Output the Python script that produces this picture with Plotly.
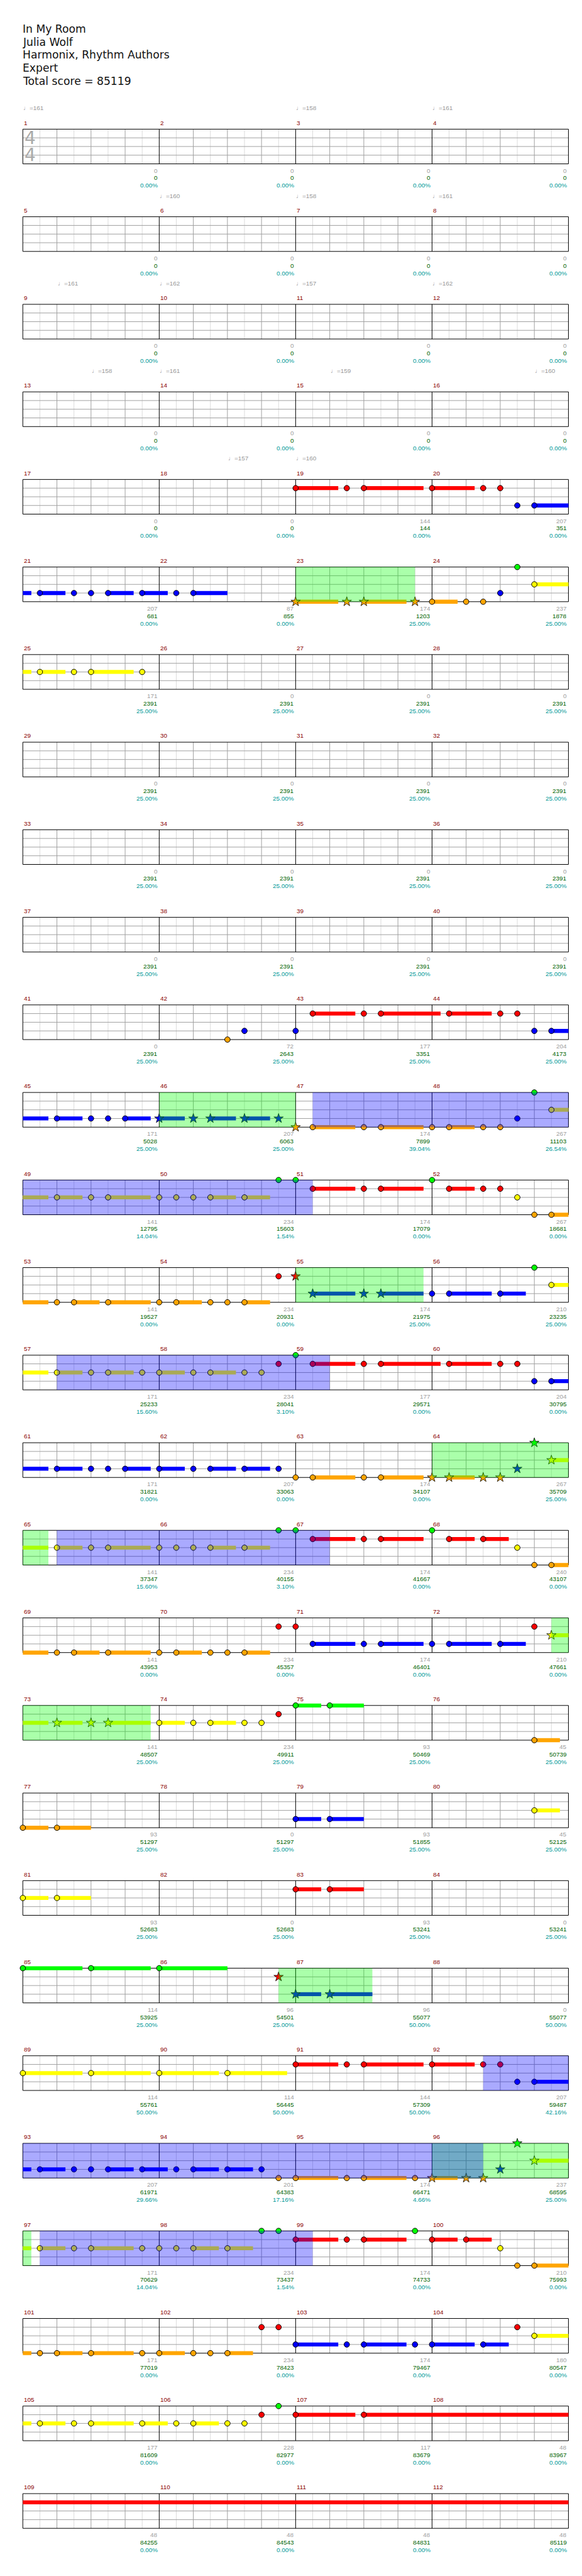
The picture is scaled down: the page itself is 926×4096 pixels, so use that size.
import plotly.graph_objects as go

# ---------------- data ----------------
title_lines = ["In My Room", "Julia Wolf", "Harmonix, Rhythm Authors", "Expert", "Total score = 85119"]

n_rows = 28
measures_per_row = 4
eighths_per_measure = 8

# per-measure labels (grouped by row of 4 measures)
measure_points = (
    [0] * 16 +
    [0, 0, 144, 207] + [207, 87, 174, 237] + [171, 0, 0, 0] + [0] * 12 +
    [0, 72, 177, 204] + [171, 207, 174, 267] + [141, 234, 174, 267] +
    [141, 234, 174, 210] + [171, 234, 177, 204] + [171, 207, 174, 267] +
    [141, 234, 174, 240] + [141, 234, 174, 210] + [141, 234, 93, 45] +
    [93, 0, 93, 45] + [93, 0, 93, 0] + [114, 96, 96, 0] +
    [114, 114, 144, 207] + [207, 201, 174, 237] + [171, 234, 174, 210] +
    [171, 234, 174, 180] + [177, 228, 117, 48] + [48, 48, 48, 48]
)
cumulative_score = (
    [0] * 16 +
    [0, 0, 144, 351] + [681, 855, 1203, 1878] + [2391] * 4 + [2391] * 12 +
    [2391, 2643, 3351, 4173] + [5028, 6063, 7899, 11103] + [12795, 15603, 17079, 18681] +
    [19527, 20931, 21975, 23235] + [25233, 28041, 29571, 30795] + [31821, 33063, 34107, 35709] +
    [37347, 40155, 41667, 43107] + [43953, 45357, 46401, 47661] + [48507, 49911, 50469, 50739] +
    [51297, 51297, 51855, 52125] + [52683, 52683, 53241, 53241] + [53925, 54501, 55077, 55077] +
    [55761, 56445, 57309, 59487] + [61971, 64383, 66471, 68595] + [70629, 73437, 74733, 75993] +
    [77019, 78423, 79467, 80547] + [81609, 82977, 83679, 83967] + [84255, 84543, 84831, 85119]
)
percent_label = (
    [0.0] * 20 +
    [0.0, 0.0, 25.0, 25.0] + [25.0] * 20 +
    [25.0, 25.0, 39.04, 26.54] + [14.04, 1.54, 0.0, 0.0] + [0.0, 0.0, 25.0, 25.0] +
    [15.60, 3.10, 0.0, 0.0] + [0.0, 0.0, 0.0, 25.0] + [15.60, 3.10, 0.0, 0.0] +
    [0.0] * 4 + [25.0] * 4 + [25.0] * 4 + [25.0] * 4 + [25.0, 25.0, 50.0, 50.0] +
    [50.0, 50.0, 50.0, 42.16] + [29.66, 17.16, 4.66, 25.0] + [14.04, 1.54, 0.0, 0.0] +
    [0.0] * 12
)

# tempo changes (position in eighth notes from song start)
tempo_pos = [0, 16, 24, 40, 48, 56, 66, 72, 80, 88, 100, 104, 114, 126, 140, 144]
tempo_bpm = [161, 158, 161, 160, 158, 161, 161, 162, 157, 162, 158, 161, 159, 160, 157, 160]

# lanes: y index 0 (bottom, kick) .. 4 (top)
lane_colors = ["#ffa500", "#0000ff", "#ffff00", "#ff0000", "#00ff00"]

# note positions (eighth notes from song start)
orange_notes = [184, 186, 187, 332, 369, 372, 373, 376, 377, 379, 380, 414, 415,
                418, 419, 421, 424, 425, 427, 428, 429, 496, 497, 500, 501, 542, 543,
                546, 547, 549, 552, 553, 555, 556, 557, 606, 608, 610,
                751, 752, 755, 756, 759, 797, 798, 801, 802, 804, 807, 808, 810, 811, 812]
orange_stars = [176, 179, 180, 183, 368, 504, 505, 507, 508, 760, 762, 763]
orange_bars = [(176, 178.5), (180, 182.5), (184, 185.5), (369, 371.5), (373, 375.5), (377, 378.5),
               (415, 417.5), (419, 420.5), (421, 423.5), (425, 426.5), (429, 430.5),
               (497, 499.5), (501, 503.5), (505, 506.5), (543, 545.5), (547, 548.5),
               (549, 551.5), (553, 554.5), (557, 558.5), (606, 607.5), (608, 609.5), (610, 612),
               (752, 754.5), (756, 758.5), (760, 761.5), (798, 800.5), (802, 803.5),
               (804, 806.5), (808, 809.5), (812, 813.5)]

blue_notes = [157, 158, 161, 163, 164, 165, 167, 169, 170, 188, 333, 336, 350, 351,
              354, 356, 357, 358, 381, 440, 441, 444, 478, 479,
              482, 484, 485, 486, 488, 490, 491, 493, 495, 561, 564, 565, 568, 569, 572,
              624, 626, 733, 734, 737, 739, 740, 741, 743, 745, 746, 748, 750,
              816, 819, 820, 823, 824, 827]
blue_stars = [360, 362, 363, 365, 367, 433, 436, 437, 509, 688, 690, 764]
blue_bars = [(158, 160.5), (161, 162.5), (165, 166.5), (167, 168.5), (170, 172),
             (351, 353.5), (354, 355.5), (358, 359.5), (360, 361.5), (363, 364.5), (365, 366.5),
             (433, 435.5), (437, 439.5), (441, 443.5), (444, 445.5), (479, 481.5),
             (482, 483.5), (486, 487.5), (488, 489.5), (491, 492.5), (493, 494.5),
             (561, 563.5), (565, 567.5), (569, 571.5), (572, 573.5), (624, 625.5), (626, 628),
             (688, 689.5), (690, 692.5), (734, 736.5), (737, 738.5), (741, 742.5),
             (743, 744.5), (746, 747.5), (748, 749.5), (816, 818.5), (820, 822.5),
             (824, 826.5), (827, 828.5)]

yellow_notes = [190, 193, 195, 196, 199, 383, 386, 388, 389, 392, 393, 394, 395, 397, 413, 447,
                450, 452, 453, 455, 456, 458, 459, 461, 462, 514, 516, 517, 520, 521, 522, 523, 525,
                541, 584, 586, 587, 589, 590, 638, 640, 642, 704, 708, 712, 716,
                769, 771, 772, 775, 776, 777, 778, 780, 796, 830,
                833, 835, 836, 839, 841, 842, 844, 845]
yellow_stars = [511, 575, 578, 580, 581, 766]
yellow_bars = [(190, 192.5), (193, 194.5), (196, 198.5), (383, 385.5), (386, 387.5), (389, 391.5),
               (395, 396.5), (397, 398.5), (447, 449.5), (450, 451.5), (453, 454.5), (456, 457.5),
               (459, 460.5), (511, 513.5), (514, 515.5), (517, 519.5), (523, 524.5), (525, 526.5),
               (575, 577.5), (578, 579.5), (581, 583.5), (584, 585.5), (587, 588.5),
               (638, 639.5), (640, 641.5), (642, 644), (704, 707.5), (708, 711.5), (712, 715.5),
               (716, 719.5), (766, 768.5), (769, 770.5), (772, 774.5), (778, 779.5), (780, 781.5),
               (830, 832.5), (833, 834.5), (836, 838.5), (839, 840.5), (842, 843.5)]

red_notes = [144, 147, 148, 152, 155, 156, 337, 340, 341, 345, 348, 349,
             401, 404, 405, 409, 411, 412, 431, 463, 465, 468, 469, 473, 476, 477,
             529, 532, 533, 537, 539, 559, 560, 574, 591, 656, 658,
             720, 723, 724, 728, 731, 732, 784, 787, 788, 792, 794, 814, 815, 829, 846, 848, 852]
red_stars = [432, 687]
red_bars = [(144, 146.5), (148, 151.5), (152, 154.5), (337, 339.5), (341, 344.5), (345, 347.5),
            (401, 403.5), (405, 407.5), (409, 410.5), (465, 467.5), (469, 472.5), (473, 475.5),
            (529, 531.5), (533, 535.5), (537, 538.5), (539, 540.5), (656, 657.5), (658, 660),
            (720, 722.5), (724, 727.5), (728, 730.5), (784, 786.5), (788, 790.5), (792, 793.5),
            (794, 795.5), (848, 851.5), (852, 896)]

green_notes = [189, 382, 399, 400, 408, 446, 464, 527, 528, 536, 592, 594,
               672, 676, 680, 782, 783, 791, 847]
green_stars = [510, 765]
green_bars = [(592, 593.5), (594, 596), (672, 675.5), (676, 679.5), (680, 684)]

# shaded phrases
green_regions = [(176, 183), (360, 368), (432, 439.5), (504, 513.5), (575, 583.5), (687, 692.5), (760, 768.5)]
blue_regions = [(369, 401), (450, 466), (514, 530), (731, 763), (769, 785)]

# ---------------- geometry (reference pixels, scaled to output) ----------------
REF_W, REF_H = 1024, 4530
OUT_W, OUT_H = 926, 4096
S = OUT_W / REF_W
STAFF_X0 = 31.3
EIGHTH_PX = 30.0
ROW_TOP0 = 218.3
ROW_PITCH = 154.0
LANE_PX = 15.25
XPAD = 0.6
YPAD = 0.7
ROW_LEN = measures_per_row * eighths_per_measure

LABEL_FONT = "Liberation Sans, Arial, sans-serif"

notes_by_lane = [(orange_notes, orange_stars, orange_bars), (blue_notes, blue_stars, blue_bars),
                 (yellow_notes, yellow_stars, yellow_bars), (red_notes, red_stars, red_bars),
                 (green_notes, green_stars, green_bars)]

fig = go.Figure()
layout_axes = {}
annotations = []
shapes = []


def suffix(r):
    return "" if r == 0 else str(r + 1)


for r in range(n_rows):
    sfx = suffix(r)
    xa, ya = "x" + sfx, "y" + sfx
    r0, r1 = r * ROW_LEN, (r + 1) * ROW_LEN
    top = ROW_TOP0 + r * ROW_PITCH
    x_lo = (STAFF_X0 - XPAD * EIGHTH_PX) / REF_W
    x_hi = (STAFF_X0 + (ROW_LEN + XPAD) * EIGHTH_PX) / REF_W
    y_top = top - YPAD * LANE_PX
    y_bot = top + 4 * LANE_PX + YPAD * LANE_PX
    layout_axes["xaxis" + sfx] = dict(domain=[x_lo, x_hi], range=[r0 - XPAD, r1 + XPAD],
                                      visible=False, fixedrange=True, anchor=ya)
    layout_axes["yaxis" + sfx] = dict(domain=[1 - y_bot / REF_H, 1 - y_top / REF_H],
                                      range=[-YPAD, 4 + YPAD], visible=False, fixedrange=True, anchor=xa)

    # grid
    gx = {"light": ([], []), "gray": ([], []), "black": ([], [])}
    for k in range(0, ROW_LEN + 1):
        kind = "black" if k % 8 == 0 else ("gray" if k % 2 == 0 else "light")
        gx[kind][0].extend([r0 + k, r0 + k, None])
        gx[kind][1].extend([0, 4, None])
    for yy in (1, 2, 3):
        gx["gray"][0].extend([r0, r1, None]); gx["gray"][1].extend([yy, yy, None])
    for yy in (0, 4):
        gx["black"][0].extend([r0, r1, None]); gx["black"][1].extend([yy, yy, None])
    for kind, col in (("light", "#dcdcdc"), ("gray", "#a0a0a0"), ("black", "#000000")):
        fig.add_trace(go.Scatter(x=gx[kind][0], y=gx[kind][1], mode="lines",
                                 line=dict(color=col, width=1), xaxis=xa, yaxis=ya,
                                 hoverinfo="skip", showlegend=False))

    # sustain bars
    for lane, (notes, stars, bars) in enumerate(notes_by_lane):
        bx, by = [], []
        for s, e in bars:
            cs, ce = max(s, r0), min(e, r1)
            if ce > cs:
                bx.extend([cs, ce, None]); by.extend([lane, lane, None])
        if bx:
            fig.add_trace(go.Scatter(x=bx, y=by, mode="lines",
                                     line=dict(color=lane_colors[lane], width=7 * S),
                                     xaxis=xa, yaxis=ya, hoverinfo="skip", showlegend=False))

    # notes
    cx, cy, cc, sx, sy, sc = [], [], [], [], [], []
    for lane, (notes, stars, bars) in enumerate(notes_by_lane):
        for p in notes:
            if r0 <= p < r1:
                cx.append(p); cy.append(lane); cc.append(lane_colors[lane])
        for p in stars:
            if r0 <= p < r1:
                sx.append(p); sy.append(lane); sc.append(lane_colors[lane])
    if cx:
        fig.add_trace(go.Scatter(x=cx, y=cy, mode="markers", cliponaxis=False,
                                 marker=dict(symbol="circle", size=9.6 * S, color=cc,
                                             line=dict(color="black", width=1)),
                                 xaxis=xa, yaxis=ya, hoverinfo="skip", showlegend=False))
    if sx:
        fig.add_trace(go.Scatter(x=sx, y=sy, mode="markers", cliponaxis=False,
                                 marker=dict(symbol="star", size=12.5 * S, color=sc,
                                             line=dict(color="black", width=0.8)),
                                 xaxis=xa, yaxis=ya, hoverinfo="skip", showlegend=False))

    # shaded phrases (drawn over everything in the staff)
    for regions, col in ((green_regions, "rgba(0,255,0,0.333)"), (blue_regions, "rgba(0,0,255,0.333)")):
        for s, e in regions:
            cs, ce = max(s, r0), min(e, r1)
            if ce > cs:
                shapes.append(dict(type="rect", xref=xa, yref=ya, x0=cs, x1=ce, y0=0, y1=4,
                                   fillcolor=col, line=dict(width=0), layer="above"))

    # measure labels
    for j in range(measures_per_row):
        m = r * measures_per_row + j  # 0-based
        start = m * eighths_per_measure
        end = start + eighths_per_measure
        annotations.append(dict(xref=xa, yref=ya, x=start, y=4, text=str(m + 1), showarrow=False,
                                xanchor="left", yanchor="middle", yshift=11.3 * S,
                                font=dict(family=LABEL_FONT, size=11 * S, color="#8b0000")))
        for txt, dy, col in ((str(measure_points[m]), 11.7, "#a0a0a0"),
                             (str(cumulative_score[m]), 24.7, "#006400"),
                             ("%.2f%%" % percent_label[m], 38.0, "#009999")):
            annotations.append(dict(xref=xa, yref=ya, x=end, y=0, text=txt, showarrow=False,
                                    xanchor="right", yanchor="middle", yshift=-dy * S,
                                    font=dict(family=LABEL_FONT, size=11 * S, color=col)))

# tempo markings
for p, bpm in zip(tempo_pos, tempo_bpm):
    r = p // ROW_LEN
    sfx = suffix(r)
    annotations.append(dict(xref="x" + sfx, yref="y" + sfx, x=p, y=4, text="\u2669=%d" % bpm,
                            showarrow=False, xanchor="left", yanchor="middle", yshift=37 * S, xshift=-1,
                            font=dict(family=LABEL_FONT, size=11 * S, color="#999999")))

# time signature
for yy in (3.0, 1.03):
    annotations.append(dict(xref="x", yref="y", x=0.43, y=yy, text="4", showarrow=False,
                            xanchor="center", yanchor="middle",
                            font=dict(family="DejaVu Sans", size=31 * S, color="#aaaaaa")))

# title block
title_y = [41.7, 64.8, 87.6, 110.8, 134.2]
for txt, yc in zip(title_lines, title_y):
    annotations.append(dict(xref="paper", yref="paper", x=28.5 / REF_W, y=1 - yc / REF_H, text=txt,
                            showarrow=False, xanchor="left", yanchor="middle",
                            font=dict(family="DejaVu Sans", size=19 * S, color="#111111")))

fig.update_layout(width=OUT_W, height=OUT_H, autosize=False,
                  margin=dict(l=0, r=0, t=0, b=0),
                  paper_bgcolor="white", plot_bgcolor="rgba(0,0,0,0)",
                  showlegend=False, annotations=annotations, shapes=shapes, **layout_axes)

fig.write_html("out.html", config={"displayModeBar": False, "staticPlot": True})
